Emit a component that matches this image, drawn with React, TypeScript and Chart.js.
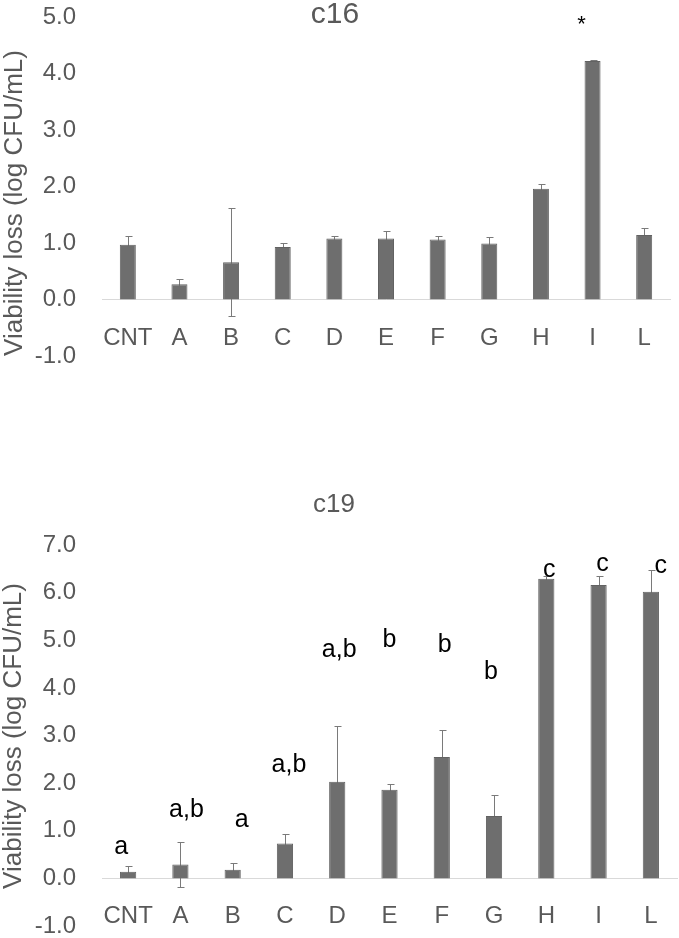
import { useEffect, useRef } from 'react';
import { Chart, registerables } from 'chart.js';

Chart.register(...registerables);

// ---------- data ----------
const categories = ['CNT', 'A', 'B', 'C', 'D', 'E', 'F', 'G', 'H', 'I', 'L'];

const c16Values = [0.97, 0.27, 0.66, 0.93, 1.08, 1.08, 1.06, 0.99, 1.96, 4.22, 1.14];
const c16Errors = [0.16, 0.09, 0.96, 0.07, 0.04, 0.13, 0.06, 0.11, 0.09, 0.02, 0.13];
const c16Marks = ['', '', '', '', '', '', '', '', '', '*', ''];
const c16MarkLevels = [0, 0, 0, 0, 0, 0, 0, 0, 0, 4.86, 0];
const c16Range = [-1, 5];

const c19Values = [0.14, 0.29, 0.18, 0.73, 2.03, 1.86, 2.55, 1.31, 6.29, 6.16, 6.02];
const c19Errors = [0.11, 0.48, 0.14, 0.21, 1.17, 0.13, 0.56, 0.44, 0.05, 0.18, 0.45];
const c19Letters = ['a', 'a,b', 'a', 'a,b', 'a,b', 'b', 'b', 'b', 'c', 'c', 'c'];
const c19LetterLevels = [0.66, 1.44, 1.22, 2.37, 4.8, 5.01, 4.9, 4.34, 6.48, 6.6, 6.55];
const c19Range = [-1, 7];

const yTitle = 'Viability loss (log CFU/mL)';

// ---------- styles ----------
const FONT = '"Liberation Sans", Arial, sans-serif';
const GRAY_TEXT = '#595959';
const BAR_FILL = '#6e6e6e';
const BAR_EDGE = '#626262';
const ERR_COLOR = '#7a7a7a';
const c16MarkDx = [0, 0, 0, 0, 0, 0, 0, 0, 0, -11, 0];
const c19LetterDx = [-7, 6, 9, 4, 2, 0, 3, -3, 3, 4, 10];

type PanelCfg = {
  title: string;
  titleX: number;
  titleY: number;
  titleSize: number;
  values: number[];
  errors: number[];
  marks: string[];
  markLevels: number[];
  markDx: number[];
  markSize: number;
  range: number[];
  yTitleX: number;
  yTitleY: number;
  padding: { top: number; bottom: number; right: number; left: number };
  width: number;
  height: number;
  top: number;
};

const panels: PanelCfg[] = [
  {
    title: 'c16',
    titleX: 335,
    titleY: 15,
    titleSize: 30,
    values: c16Values,
    errors: c16Errors,
    marks: c16Marks,
    markLevels: c16MarkLevels,
    markDx: c16MarkDx,
    markSize: 22,
    range: c16Range,
    yTitleX: 15,
    yTitleY: 203,
    padding: { top: 17, bottom: 104, right: 9, left: 0 },
    width: 679,
    height: 460,
    top: 0,
  },
  {
    title: 'c19',
    titleX: 334,
    titleY: 45,
    titleSize: 26,
    values: c19Values,
    errors: c19Errors,
    marks: c19Letters,
    markLevels: c19LetterLevels,
    markDx: c19LetterDx,
    markSize: 25,
    range: c19Range,
    yTitleX: 14,
    yTitleY: 276,
    padding: { top: 85, bottom: 12, right: 2, left: 0 },
    width: 679,
    height: 478,
    top: 460,
  },
];

function Panel({ cfg }: { cfg: PanelCfg }) {
  const ref = useRef<HTMLCanvasElement | null>(null);

  useEffect(() => {
    if (!ref.current) return;

    const errorPlugin = {
      id: 'errorBars',
      beforeDatasetsDraw(chart: any) {
        const ctx = chart.ctx;
        const meta = chart.getDatasetMeta(0);
        const y = chart.scales.y;
        ctx.save();
        ctx.strokeStyle = ERR_COLOR;
        ctx.lineWidth = 1;
        meta.data.forEach((bar: any, i: number) => {
          const v = cfg.values[i];
          const e = cfg.errors[i];
          const x = Math.round(bar.x) + 0.5;
          const yTop = Math.round(y.getPixelForValue(v + e)) + 0.5;
          const yBot = Math.round(y.getPixelForValue(v - e)) + 0.5;
          ctx.beginPath();
          ctx.moveTo(x, yTop);
          ctx.lineTo(x, yBot);
          ctx.moveTo(x - 3, yTop);
          ctx.lineTo(x + 4, yTop);
          ctx.moveTo(x - 3, yBot);
          ctx.lineTo(x + 4, yBot);
          ctx.stroke();
        });
        ctx.restore();
      },
    };

    const textPlugin = {
      id: 'texts',
      afterDraw(chart: any) {
        const ctx = chart.ctx;
        const meta = chart.getDatasetMeta(0);
        const y = chart.scales.y;
        ctx.save();
        // chart title
        ctx.fillStyle = GRAY_TEXT;
        ctx.font = `${cfg.titleSize}px ${FONT}`;
        ctx.textAlign = 'center';
        ctx.textBaseline = 'middle';
        ctx.fillText(cfg.title, cfg.titleX, cfg.titleY);
        // y axis title
        ctx.save();
        ctx.translate(cfg.yTitleX, cfg.yTitleY);
        ctx.rotate(-Math.PI / 2);
        ctx.font = `26px ${FONT}`;
        ctx.fillText(yTitle, 0, 0);
        ctx.restore();
        // significance marks
        ctx.fillStyle = '#000000';
        ctx.font = `${cfg.markSize}px ${FONT}`;
        meta.data.forEach((bar: any, i: number) => {
          const t = cfg.marks[i];
          if (!t) return;
          ctx.fillText(t, bar.x + cfg.markDx[i], y.getPixelForValue(cfg.markLevels[i]));
        });
        ctx.restore();
      },
    };

    const chart = new Chart(ref.current, {
      type: 'bar',
      data: {
        labels: categories,
        datasets: [
          {
            data: cfg.values,
            backgroundColor: BAR_FILL,
            borderColor: BAR_EDGE,
            borderWidth: 1,
            barPercentage: 0.31,
            categoryPercentage: 1,
          },
        ],
      },
      options: {
        responsive: false,
        animation: false,
        events: [],
        layout: { padding: cfg.padding },
        plugins: {
          legend: { display: false },
          tooltip: { enabled: false },
          title: { display: false },
        },
        scales: {
          x: {
            position: { y: 0 } as any,
            grid: { display: false, drawTicks: false },
            border: { display: true, color: '#d9d9d9', width: 1 },
            afterFit: (s: any) => {
              s.height = 0;
              s.paddingLeft = 0;
              s.paddingRight = 0;
            },
            ticks: {
              color: GRAY_TEXT,
              font: { family: FONT, size: 24 },
              padding: 24,
              autoSkip: false,
              maxRotation: 0,
            },
          },
          y: {
            min: cfg.range[0],
            max: cfg.range[1],
            grid: { display: false, drawTicks: false },
            border: { display: false },
            afterFit: (s: any) => {
              s.width = 102;
              s.paddingTop = 0;
              s.paddingBottom = 0;
            },
            ticks: {
              stepSize: 1,
              color: GRAY_TEXT,
              font: { family: FONT, size: 24 },
              padding: 26,
              callback: (v: any) => Number(v).toFixed(1),
            },
          },
        },
      },
      plugins: [errorPlugin, textPlugin],
    });

    return () => chart.destroy();
  }, [cfg]);

  return (
    <canvas
      ref={ref}
      width={cfg.width}
      height={cfg.height}
      style={{ position: 'absolute', left: 0, top: cfg.top, width: cfg.width, height: cfg.height, display: 'block' }}
    />
  );
}

export default function App() {
  return (
    <div style={{ position: 'absolute', left: 0, top: 0, width: 679, height: 938, background: '#ffffff', overflow: 'hidden' }}>
      {panels.map((p) => (
        <Panel key={p.title} cfg={p} />
      ))}
    </div>
  );
}
